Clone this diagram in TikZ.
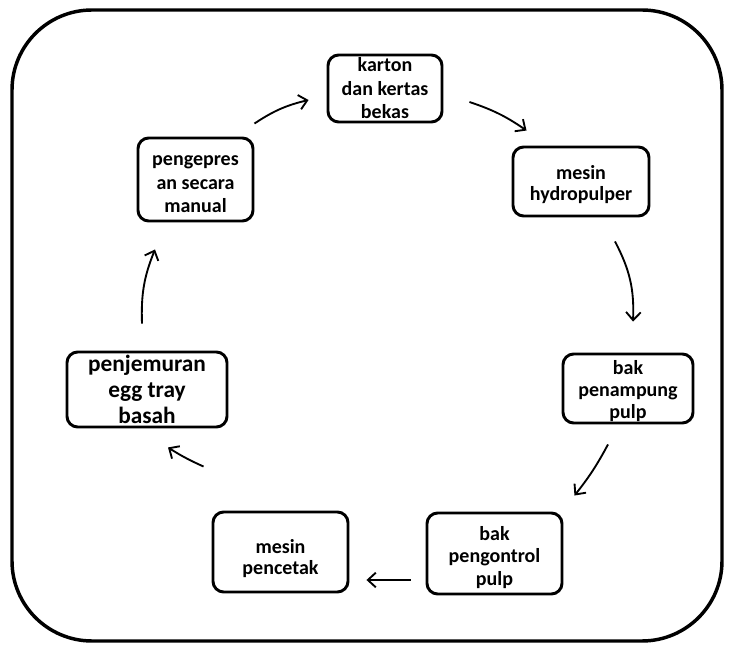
\documentclass[tikz,border=0pt]{standalone}
\usepackage{fontspec}
\setmainfont{Carlito}
\usepackage{tikz}
\usetikzlibrary{arrows.meta,calc}
\newcommand{\dnstrut}[1]{\rule{0pt}{#1}}
\tikzset{
  frame/.style={draw,line width=2.6pt,rounded corners=60pt},
  stage/.style={draw,line width=2.2pt,rounded corners=8pt,align=center,inner sep=0pt,
                font=\bfseries\fontsize{15}{16.5}\selectfont},
  flow/.style ={draw,line width=1.4pt,-{Straight Barb[length=6pt,width=11pt]}},
}

\begin{document}
\begin{tikzpicture}[x=0.75pt,y=0.75pt]
  \useasboundingbox (0,0) rectangle (732,650);
  \path[frame] (12,9) rectangle (722,640);

  \node[stage,minimum width=85.5pt,minimum height=50.25pt,font=\bfseries\fontsize{15}{17.6}\selectfont]
    (karton) at (385,561.5) {karton\\dan kertas\\bekas};
  \node[stage,minimum width=102pt,minimum height=51.75pt,font=\bfseries\fontsize{15}{15.75}\selectfont]
    (hydro) at (581,468.5) {\dnstrut{14.5pt}mesin\\hydropulper};
  \node[stage,minimum width=97.5pt,minimum height=51.75pt]
    (tampung) at (628,261.5) {\dnstrut{14.5pt}bak\\penampung\\pulp};
  \node[stage,minimum width=101.25pt,minimum height=60.75pt,font=\bfseries\fontsize{15}{16.9}\selectfont]
    (kontrol) at (494.5,96.5) {\dnstrut{16pt}bak\\pengontrol\\pulp};
  \node[stage,minimum width=101.25pt,minimum height=60pt,font=\bfseries\fontsize{15}{15.75}\selectfont]
    (cetak) at (280.5,98) {\dnstrut{20.5pt}mesin\\pencetak};
  \node[stage,minimum width=120pt,minimum height=56.25pt,font=\bfseries\fontsize{17.5}{19.5}\selectfont]
    (jemur) at (147,260.5) {penjemuran\\egg tray\\basah};
  \node[stage,minimum width=86.25pt,minimum height=62.25pt,font=\bfseries\fontsize{15}{17.6}\selectfont]
    (pres) at (195.5,470.5) {\dnstrut{14.5pt}pengepres\\an secara\\manual};

  % siklus
  \path[flow] ([shift={(0,13)}]pres.north east) to[bend left=10] ([shift={(-18,-11.5)}]karton.west);
  \path[flow] ([shift={(26,-13.5)}]karton.east) to[bend left=8] ([shift={(15,15)}]hydro.north west);
  \path[flow] ([shift={(34,-24)}]hydro.south) to[bend left=15] ([shift={(5,31)}]tampung.north);
  \path[flow] ([shift={(-20,-20)}]tampung.south) to[bend left=5] ([shift={(11,16)}]kontrol.north east);
  \path[flow] ([shift={(-15,-26.5)}]kontrol.west) -- ([shift={(17,-28)}]cetak.east);
  \path[flow] ([shift={(-8,44)}]cetak.north west) to[bend left=4] ([shift={(21,-19)}]jemur.south);
  \path[flow] ([shift={(-5,27)}]jemur.north) to[bend left=12] ([shift={(-40.5,-27)}]pres.south);
\end{tikzpicture}
\end{document}
